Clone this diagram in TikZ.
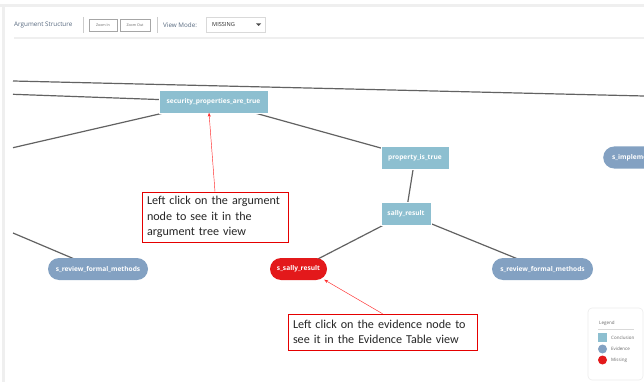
\documentclass[tikz,border=0pt]{standalone}
\usepackage{fontspec}
\setmainfont{Open Sans}
\newfontfamily\callfont{Carlito}
\usetikzlibrary{backgrounds,arrows.meta}
\definecolor{concl}{HTML}{8DBFD0}
\definecolor{evid}{HTML}{83A1C2}
\definecolor{miss}{HTML}{E3191B}
\definecolor{edgec}{HTML}{626262}
\definecolor{panelc}{HTML}{EFEFEF}
\definecolor{toolc}{HTML}{56687E}
\tikzset{
  conc/.style={fill=concl, draw=white, line width=0.4pt, minimum height=23pt, inner sep=0pt, text=white, font=\fontsize{6.6}{7}\selectfont\bfseries},
  evnode/.style={fill=evid, rounded corners=11pt, minimum height=22pt, inner sep=0pt, text=white, font=\fontsize{6.6}{7}\selectfont\bfseries},
  missnode/.style={fill=miss, rounded corners=11pt, minimum height=22pt, inner sep=0pt, text=white, font=\fontsize{6.6}{7}\selectfont\bfseries},
  edge/.style={draw=edgec, line width=1.2pt},
  callbox/.style={draw=red!90!black, line width=0.6pt, fill=white, align=left, inner sep=0pt, font=\callfont\fontsize{12.1}{15.5}\selectfont, text=black!85},
  callarrow/.style={draw=red!85, line width=0.45pt, -{Stealth[length=4pt,width=3pt]}},
  tbtext/.style={text=toolc, font=\fontsize{6.3}{7}\selectfont, inner sep=0pt, anchor=west},
  btn/.style={draw=black!35, line width=0.4pt, minimum height=12pt, inner sep=0pt, font=\fontsize{3.6}{4}\selectfont, text=black!60},
  legtext/.style={text=black!60, font=\fontsize{4.5}{5}\selectfont, inner sep=0pt, anchor=west}
}
\begin{document}
\begin{tikzpicture}[x=1pt,y=-1pt]
\useasboundingbox (0,0) rectangle (644,382);
\clip (0,0) rectangle (644,382);
% panel border
\fill[panelc] (0,4) rectangle (644,7);
\fill[panelc] (2,4) rectangle (4.5,382);
% toolbar
\node[tbtext] (title) at (14,25) {Argument Structure};
\draw[black!20, line width=0.5pt] (83,17) -- (83,33);
\node[btn, minimum width=28pt] (zin) at (103,25) {Zoom In};
\node[btn, minimum width=30pt] (zout) at (135,25) {Zoom Out};
\draw[black!20, line width=0.5pt] (157,17) -- (157,33);
\node[tbtext] (vm) at (163,25) {View Mode:};
\node[draw=black!15, line width=0.5pt, minimum width=59pt, minimum height=15pt, inner sep=0pt] (dd) at (235.5,24.5) {};
\node[tbtext, text=black!85, font=\fontsize{5.6}{6}\selectfont] (ddtext) at (212,24.8) {MISSING};
\fill[black!70] (256,23.5) -- (261,23.5) -- (258.5,26) -- cycle;
\fill[panelc] (14,37.5) rectangle (644,39.5);
% nodes
\node[conc, minimum width=109pt] (sec) at (213.5,101.5) {security\_properties\_are\_true};
\node[conc, minimum width=68pt] (prop) at (415,157.5) {property\_is\_true};
\node[conc, minimum width=50pt] (sally) at (406,213.5) {sally\_result};
\node[missnode, minimum width=57pt] (ssally) at (298.5,269) {s\_sally\_result};
\node[evnode, minimum width=100pt] (revl) at (98,269) {s\_review\_formal\_methods};
\node[evnode, minimum width=101pt] (revr) at (542.5,269) {s\_review\_formal\_methods};
\node[evnode, minimum width=120pt, anchor=west, text width=112pt, align=left] (simpl) at (603,157.5) {\hspace*{5pt}s\_impleme};
% off-screen ends
\coordinate (l1a) at (13,81);
\coordinate (l1b) at (644,96);
\coordinate (l2a) at (13,94.3);
\coordinate (l3a) at (13,147.7);
\coordinate (l5a) at (13,233);
\begin{scope}[on background layer]
\draw[edge] (l1a) -- (l1b);
\draw[edge] (l2a) -- (sec.center);
\draw[edge] (l3a) -- (sec.center);
\draw[edge] (sec.center) -- (prop.center);
\draw[edge] (prop.center) -- (sally.center);
\draw[edge] (sally.center) -- (ssally.center);
\draw[edge] (sally.center) -- (revr.center);
\draw[edge] (l5a) -- (revl.center);
\end{scope}
% callouts
\node[callbox, minimum width=146pt, minimum height=50pt, text width=136pt] (c1) at (215,217) {Left click on the argument\\node to see it in the\\argument tree view};
\node[callbox, minimum width=189pt, minimum height=36pt, text width=179pt] (c2) at (382.5,332) {Left click on the evidence node to\\see it in the Evidence Table view};
\draw[callarrow] (c1.north) -- ([xshift=-4.5pt,yshift=0.5pt]sec.south);
\draw[callarrow] (c2.north) -- ([xshift=-3pt,yshift=0.5pt]ssally.south east);
% legend
\node[draw=black!8, line width=0.6pt, rounded corners=4pt, minimum width=55pt, minimum height=72pt, inner sep=0pt] (leg) at (615.5,344) {};
\node[legtext] (legt) at (599,323) {Legend};
\draw[black!15, line width=0.5pt] (598,329.5) -- (634,329.5);
\fill[concl] (598,333) rectangle (607,342);
\fill[evid] (602.5,349) circle (4.5pt);
\fill[miss] (602.5,360) circle (4.5pt);
\node[legtext] (lc) at (611,337.5) {Conclusion};
\node[legtext] (le) at (611,349) {Evidence};
\node[legtext] (lm) at (611,360) {Missing};
\end{tikzpicture}
\end{document}
